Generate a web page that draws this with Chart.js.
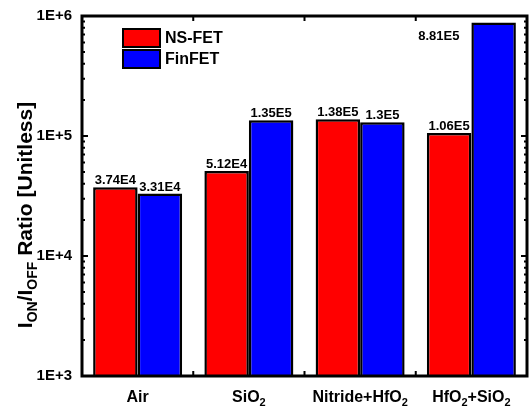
<!DOCTYPE html>
<html lang="en">
  <head>
    <meta charset="UTF-8" />
    <title>ION/IOFF Ratio</title>
    <script src="https://cdn.jsdelivr.net/npm/chart.js"></script>
    <style>
      body { margin: 0; background: #fff; }
    </style>
  </head>
  <body>
    <canvas id="ratioChart" width="530" height="406"></canvas>

    <script>
      // data
      const categories = ["Air", "SiO_{2}", "Nitride+HfO_{2}", "HfO_{2}+SiO_{2}"];
      const nsfetValues = [37400, 51200, 138000, 106000];
      const finfetValues = [33100, 135000, 130000, 881000];
      const nsfetLabels = ["3.74E4", "5.12E4", "1.38E5", "1.06E5"];
      const finfetLabels = ["3.31E4", "1.35E5", "1.3E5", "8.81E5"];
      const yTickValues = [1e3, 1e4, 1e5, 1e6];
      const yTickLabels = ["1E+3", "1E+4", "1E+5", "1E+6"];
      const yTitle = "I_{ON}/I_{OFF} Ratio [Unitless]";

      const FONT = "Liberation Sans, Arial, sans-serif";

      function parseRich(str) {
        const parts = [];
        const re = /_\{([^}]*)\}/g;
        let last = 0, m;
        while ((m = re.exec(str))) {
          if (m.index > last) parts.push({ t: str.slice(last, m.index), sub: false });
          parts.push({ t: m[1], sub: true });
          last = re.lastIndex;
        }
        if (last < str.length) parts.push({ t: str.slice(last), sub: false });
        return parts;
      }

      // draws text with subscripts, centred at (x, y) on the baseline
      function drawRich(ctx, str, x, y, size) {
        const parts = parseRich(str);
        const subSize = Math.round(size * 0.68);
        let total = 0;
        parts.forEach((p) => {
          ctx.font = "bold " + (p.sub ? subSize : size) + "px " + FONT;
          p.w = ctx.measureText(p.t).width;
          total += p.w;
        });
        let cx = x - total / 2;
        ctx.textAlign = "left";
        ctx.textBaseline = "alphabetic";
        parts.forEach((p) => {
          ctx.font = "bold " + (p.sub ? subSize : size) + "px " + FONT;
          ctx.fillText(p.t, cx, p.sub ? y + size * 0.22 : y);
          cx += p.w;
        });
      }

      const decorPlugin = {
        id: "decor",
        afterDraw(chart) {
          const ctx = chart.ctx;
          const area = chart.chartArea;
          const xs = chart.scales.x;
          const ys = chart.scales.y;
          ctx.save();
          ctx.fillStyle = "#000";
          ctx.strokeStyle = "#000";

          // frame
          ctx.lineWidth = 3;
          ctx.strokeRect(area.left, area.top, area.right - area.left, area.bottom - area.top);

          // inward ticks on left and right
          ctx.lineWidth = 2;
          for (let d = 3; d < 6; d++) {
            for (let k = 1; k < 10; k++) {
              const v = k * Math.pow(10, d);
              const py = ys.getPixelForValue(v);
              const len = k === 1 ? 6 : 3;
              ctx.beginPath();
              ctx.moveTo(area.left, py);
              ctx.lineTo(area.left + len, py);
              ctx.moveTo(area.right, py);
              ctx.lineTo(area.right - len, py);
              ctx.stroke();
            }
          }
          // ticks between categories, bottom and top
          for (let i = 0; i < categories.length - 1; i++) {
            const px = (xs.getPixelForValue(i) + xs.getPixelForValue(i + 1)) / 2;
            ctx.beginPath();
            ctx.moveTo(px, area.bottom);
            ctx.lineTo(px, area.bottom - 5);
            ctx.moveTo(px, area.top);
            ctx.lineTo(px, area.top + 5);
            ctx.stroke();
          }

          // value labels above bars
          ctx.font = "bold 13px " + FONT;
          const labelSets = [nsfetLabels, finfetLabels];
          chart.data.datasets.forEach((ds, di) => {
            chart.getDatasetMeta(di).data.forEach((el, i) => {
              const txt = labelSets[di][i];
              if (el.y - 18 < area.top) {
                ctx.textAlign = "right";
                ctx.textBaseline = "middle";
                ctx.fillText(txt, el.x - el.width / 2 - 12, el.y + 14);
              } else {
                ctx.textAlign = "center";
                ctx.textBaseline = "alphabetic";
                ctx.fillText(txt, el.x, el.y - 3);
              }
            });
          });

          // category labels with subscripts
          categories.forEach((c, i) => {
            drawRich(ctx, c, xs.getPixelForValue(i), area.bottom + 26, 16);
          });

          // y title, rotated
          ctx.save();
          ctx.translate(32, 215);
          ctx.rotate(-Math.PI / 2);
          drawRich(ctx, yTitle, 0, 0, 21);
          ctx.restore();

          // legend
          chart.data.datasets.forEach((ds, di) => {
            const by = 29 + di * 21;
            ctx.fillStyle = ds.backgroundColor;
            ctx.fillRect(123, by, 37, 18);
            ctx.lineWidth = 2;
            ctx.strokeRect(123, by, 37, 18);
            ctx.fillStyle = "#000";
            ctx.font = "bold 16px " + FONT;
            ctx.textAlign = "left";
            ctx.textBaseline = "middle";
            ctx.fillText(ds.label, 165, by + 10);
          });

          ctx.restore();
        },
      };

      new Chart(document.getElementById("ratioChart"), {
        type: "bar",
        data: {
          labels: categories,
          datasets: [
            {
              label: "NS-FET",
              data: nsfetValues,
              backgroundColor: "#ff0000",
              borderColor: "#000",
              borderWidth: 2.5,
            },
            {
              label: "FinFET",
              data: finfetValues,
              backgroundColor: "#0000ff",
              borderColor: "#000",
              borderWidth: 2.5,
            },
          ],
        },
        options: {
          responsive: false,
          animation: false,
          layout: { padding: { left: 0, top: 16, right: 3, bottom: 0 } },
          plugins: {
            legend: { display: false },
            tooltip: { enabled: false },
          },
          datasets: {
            bar: { categoryPercentage: 0.8, barPercentage: 1.0 },
          },
          scales: {
            x: {
              grid: { display: false },
              border: { display: false },
              ticks: { display: false },
              afterFit(s) { s.height = 30; },
            },
            y: {
              type: "logarithmic",
              min: 1e3,
              max: 1e6,
              grid: { display: false, drawTicks: false },
              border: { display: false },
              afterBuildTicks(s) {
                s.ticks = yTickValues.map((v) => ({ value: v }));
              },
              afterFit(s) {
                s.width = 82;
                s.paddingTop = 0;
                s.paddingBottom = 0;
              },
              ticks: {
                color: "#000",
                padding: 10,
                font: { family: FONT, size: 15, weight: "bold" },
                callback(v) {
                  const i = yTickValues.indexOf(v);
                  return i >= 0 ? yTickLabels[i] : "";
                },
              },
            },
          },
        },
        plugins: [decorPlugin],
      });
    </script>
  </body>
</html>
